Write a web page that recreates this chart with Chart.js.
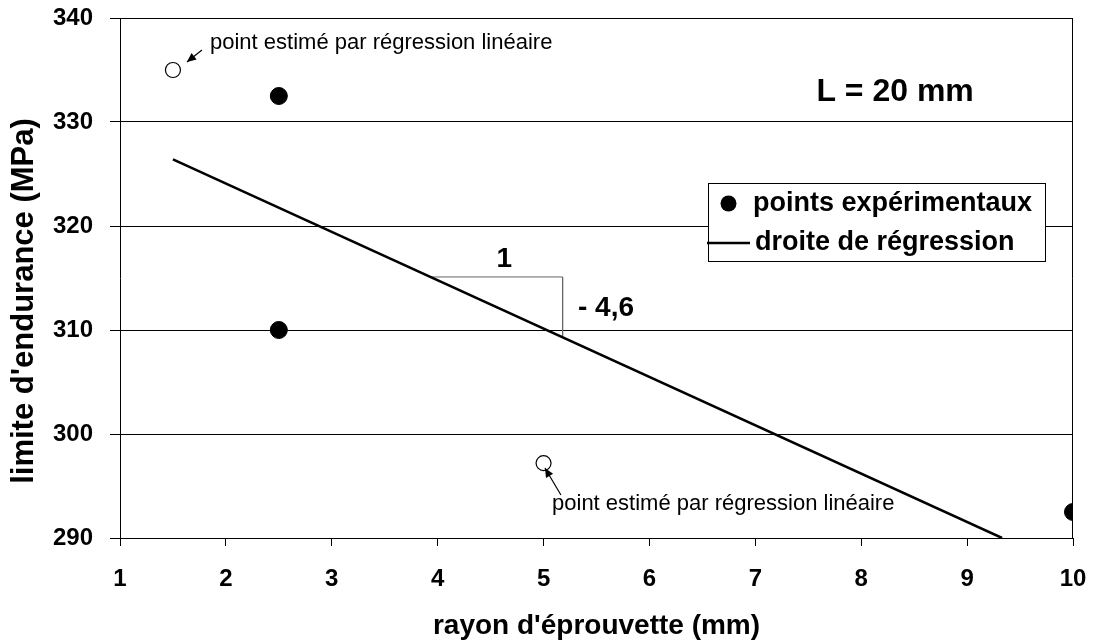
<!DOCTYPE html>
<html><head><meta charset="utf-8">
<script src="https://cdn.jsdelivr.net/npm/chart.js@4.4.1/dist/chart.umd.min.js"></script>
<style>html,body{margin:0;padding:0;background:#fff}#wrap{width:1093px;height:640px}</style>
</head><body><div id="wrap"><canvas id="c" width="1093" height="640"></canvas></div>
<script>
const expX = [2.5, 2.5, 10];
const expY = [332.5, 310, 292.5];
const estX = [1.5, 5];
const estY = [335, 297.2];
const regX = [1.5, 9.33];
const regY = [326.4, 290];
const triX = [3.93, 5.18, 5.18];
const triY = [315.1, 315.1, 309.3];
const xTicks = [1,2,3,4,5,6,7,8,9,10];
const yTicks = [290,300,310,320,330,340];
const xTitle = "rayon d'éprouvette (mm)";
const yTitle = "limite d'endurance (MPa)";
const labelExp = 'points expérimentaux';
const labelReg = 'droite de régression';
const noteText = 'point estimé par régression linéaire';
const slopeRun = '1';
const slopeRise = '- 4,6';
const lengthLabel = 'L = 20 mm';

const pts = (xs, ys) => xs.map((x,i)=>({x, y: ys[i]}));
const FONT = '"Liberation Sans", Arial, sans-serif';

const overlay = {
  id: 'overlay',
  afterDatasetsDraw(chart) {
    const {ctx, chartArea: a, scales: {x, y}} = chart;
    ctx.save();
    ctx.strokeStyle = '#000'; ctx.lineWidth = 1;
    ctx.beginPath();
    ctx.moveTo(Math.round(a.left), Math.round(a.top)+0.5);
    ctx.lineTo(Math.round(a.right)-0.5, Math.round(a.top)+0.5);
    ctx.lineTo(Math.round(a.right)-0.5, Math.round(a.bottom));
    ctx.stroke();
    ctx.fillStyle = '#000';
    // y axis title
    ctx.save();
    ctx.translate(33, 301);
    ctx.rotate(-Math.PI/2);
    ctx.font = 'bold 31px ' + FONT; ctx.textAlign = 'center'; ctx.textBaseline = 'alphabetic';
    ctx.fillText(yTitle, 0, 0);
    ctx.restore();
    ctx.textBaseline = 'middle';
    ctx.font = 'bold 28px ' + FONT; ctx.textAlign = 'center';
    ctx.fillText(slopeRun, x.getPixelForValue(4.63), y.getPixelForValue(316.8));
    ctx.fillText(slopeRise, x.getPixelForValue(5.59), y.getPixelForValue(312.07));
    ctx.font = 'bold 32px ' + FONT;
    ctx.fillText(lengthLabel, x.getPixelForValue(8.32), y.getPixelForValue(332.9));
    ctx.font = '22px ' + FONT; ctx.textAlign = 'left';
    ctx.fillText(noteText, x.getPixelForValue(1.85), y.getPixelForValue(337.56));
    ctx.fillText(noteText, x.getPixelForValue(5.08), y.getPixelForValue(293.23));
    const arrow = (x1,y1,x2,y2) => {
      const X1=x.getPixelForValue(x1), Y1=y.getPixelForValue(y1), X2=x.getPixelForValue(x2), Y2=y.getPixelForValue(y2);
      ctx.beginPath(); ctx.moveTo(X1,Y1); ctx.lineTo(X2,Y2); ctx.lineWidth=1.2; ctx.stroke();
      const ang = Math.atan2(Y2-Y1, X2-X1), L=10, W=0.42;
      ctx.beginPath(); ctx.moveTo(X2,Y2);
      ctx.lineTo(X2-L*Math.cos(ang-W), Y2-L*Math.sin(ang-W));
      ctx.lineTo(X2-L*Math.cos(ang+W), Y2-L*Math.sin(ang+W));
      ctx.closePath(); ctx.fill();
    };
    arrow(1.774, 336.92, 1.632, 335.77);
    arrow(5.164, 294.13, 5.013, 296.73);
    const lx=708, ly=183, lw=337, lh=78;
    ctx.fillStyle='#fff'; ctx.fillRect(lx,ly,lw,lh);
    ctx.strokeStyle='#000'; ctx.lineWidth=1; ctx.strokeRect(lx+0.5,ly+0.5,lw,lh);
    ctx.fillStyle='#000';
    ctx.beginPath(); ctx.arc(728.5,203.5,8,0,Math.PI*2); ctx.fill();
    ctx.beginPath(); ctx.moveTo(707,243); ctx.lineTo(750,243); ctx.lineWidth=2.5; ctx.stroke();
    ctx.font='bold 27px '+FONT; ctx.textAlign='left';
    ctx.fillText(labelExp, 753, 204);
    ctx.fillText(labelReg, 755, 243);
    ctx.restore();
  }
};

new Chart(document.getElementById('c'), {
  type: 'scatter',
  data: { datasets: [
    { label: 'triangle', data: pts(triX, triY), showLine: true, borderColor: '#666', borderWidth: 1, pointRadius: 0, order: 3 },
    { label: labelReg, data: pts(regX, regY), showLine: true, borderColor: '#000', borderWidth: 2.5, pointRadius: 0, order: 2 },
    { label: labelExp, data: pts(expX, expY), pointRadius: 8.5, pointBackgroundColor: '#000', pointBorderColor: '#000', order: 1 },
    { label: 'estimés', data: pts(estX, estY), pointRadius: 7.5, pointBackgroundColor: '#fff', pointBorderColor: '#000', pointBorderWidth: 1.2, order: 1 }
  ]},
  options: {
    responsive: false, animation: false,
    layout: { padding: { left: 0, right: 20, top: 18, bottom: 0 } },
    plugins: { legend: { display: false }, tooltip: { enabled: false } },
    scales: {
      x: {
        type: 'linear', min: 1, max: 10,
        afterBuildTicks: s => { s.ticks = xTicks.map(v=>({value:v})); },
        afterFit: s => { s.height = 102; s.paddingLeft = 0; s.paddingRight = 0; },
        grid: { drawOnChartArea: false, color: '#000', tickLength: 8 },
        border: { color: '#000' },
        ticks: { color: '#000', font: { family: FONT, size: 24, weight: 'bold' }, padding: 19, maxRotation: 0 },
        title: { display: true, text: xTitle, color: '#000', font: { family: FONT, size: 28, weight: 'bold', lineHeight: 1 }, padding: 0 }
      },
      y: {
        type: 'linear', min: 290, max: 340,
        afterBuildTicks: s => { s.ticks = yTicks.map(v=>({value:v})); },
        afterFit: s => { s.width = 120; s.paddingTop = 0; s.paddingBottom = 0; },
        grid: { color: '#000', tickLength: 10 },
        border: { color: '#000' },
        ticks: { color: '#000', font: { family: FONT, size: 24, weight: 'bold' }, padding: 17 },
        title: { display: false, text: yTitle }
      }
    }
  },
  plugins: [overlay]
});
</script></body></html>
